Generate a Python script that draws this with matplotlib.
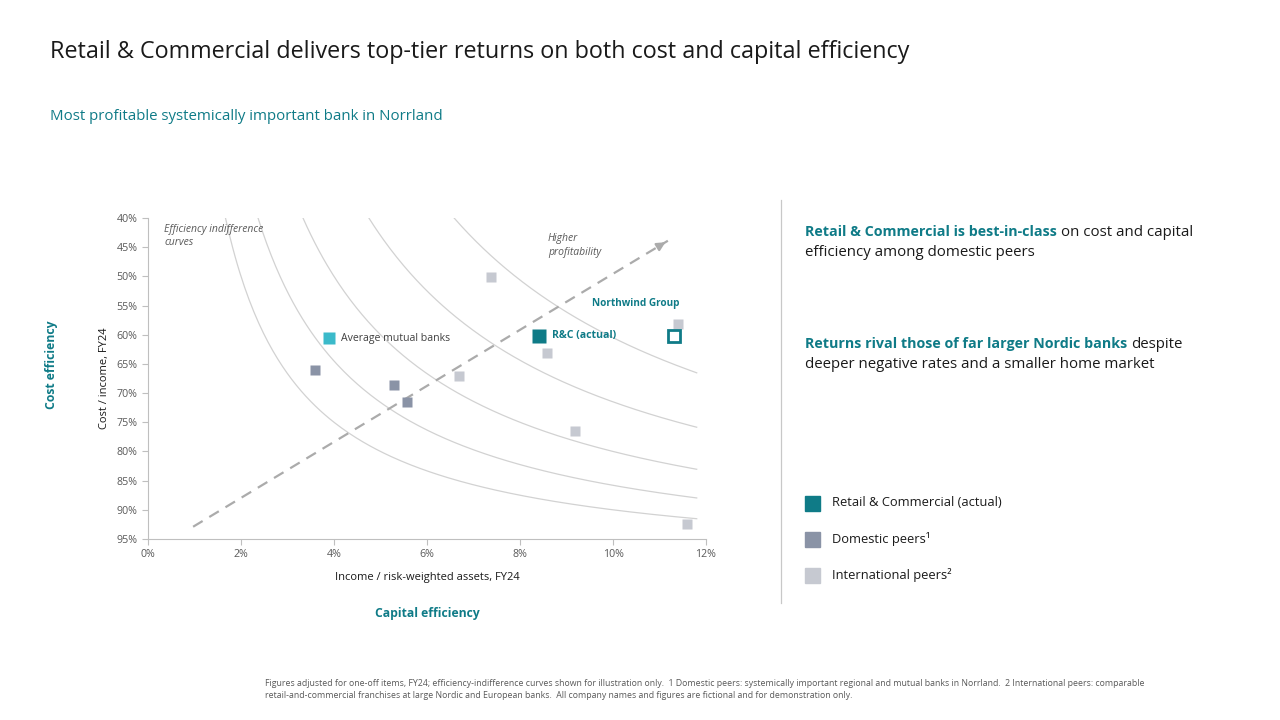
import matplotlib
matplotlib.use("Agg")
import matplotlib.pyplot as plt
import numpy as np

plt.rcParams['font.family'] = ['Open Sans', 'DejaVu Sans']

# --- data -------------------------------------------------------------
rc_actual = (8.41, 60.2)           # income/RWA %, cost/income %
northwind = (11.31, 60.2)
avg_mutual = (3.89, 60.6)

domestic_x = [3.59, 5.29, 5.57]
domestic_y = [66.0, 68.6, 71.5]

intl_x = [7.38, 8.58, 6.69, 9.18, 11.40, 11.59]
intl_y = [50.1, 63.1, 67.1, 76.5, 58.2, 92.4]

# return-on-RWA levels for the indifference curves: I * (1 - CI)
curve_levels = [1.0, 1.42, 2.0, 2.85, 3.95]

arrow_start = (0.97, 92.9)
arrow_end = (11.18, 43.9)

x_ticks = [0, 2, 4, 6, 8, 10, 12]
y_ticks = [40, 45, 50, 55, 60, 65, 70, 75, 80, 85, 90, 95]

# --- colours ----------------------------------------------------------
TEAL = '#0F7B87'
TEAL_LIGHT = '#3BBACA'
DOMESTIC = '#8A93A6'
INTL = '#C6C9D1'
CURVE = '#D2D2D2'
DARK = '#1A1A1A'
GREY_TXT = '#595959'

fig = plt.figure(figsize=(12.8, 7.2), dpi=100)
W, H = 1280, 720


def fx(px):
    return px / W


def fy(py):
    return 1 - py / H


# titles
fig.text(fx(50), fy(52), 'Retail & Commercial delivers top-tier returns on both cost and capital efficiency',
         fontsize=16.8, color=DARK, va='center')
fig.text(fx(50), fy(116), 'Most profitable systemically important bank in Norrland',
         fontsize=10.8, color=TEAL, va='center')

# --- chart ------------------------------------------------------------
ax = fig.add_axes([fx(148), fy(539), fx(706) - fx(148), fy(218) - fy(539)])
ax.set_xlim(0, 12)
ax.set_ylim(95, 40)

for k in curve_levels:
    x0 = k / 0.6
    xs = np.linspace(x0, 11.8, 200)
    ax.plot(xs, 100 * (1 - k / xs), color=CURVE, lw=0.9, zorder=1)

ax.plot([arrow_start[0], arrow_end[0]], [arrow_start[1], arrow_end[1]],
        color='#ABABAB', lw=1.6, ls=(0, (5, 3.5)), zorder=2)
ax.annotate('', xy=arrow_end, xytext=(arrow_end[0] - 0.25, arrow_end[1] + 1.2),
            arrowprops=dict(arrowstyle='-|>,head_length=0.5,head_width=0.25',
                            color='#ABABAB', lw=1.6), zorder=2)

ax.plot(intl_x, intl_y, 's', ms=7, color=INTL, mec='none', zorder=3)
ax.plot(domestic_x, domestic_y, 's', ms=7, color=DOMESTIC, mec='none', zorder=3)
ax.plot(*avg_mutual, 's', ms=8.5, color=TEAL_LIGHT, mec='none', zorder=4)
ax.plot(*rc_actual, 's', ms=10.5, color=TEAL, mec='none', zorder=4)
ax.plot(*northwind, 's', ms=8.5, mfc='white', mec=TEAL, mew=2, zorder=4)

ax.text(avg_mutual[0] + 0.26, avg_mutual[1], 'Average mutual banks',
        fontsize=7.6, color='#404040', va='center')
ax.text(rc_actual[0] + 0.28, rc_actual[1], 'R&C (actual)',
        fontsize=7.6, color=TEAL, fontweight='bold', va='center')
ax.text(9.55, 54.6, 'Northwind Group', fontsize=7.2, color=TEAL,
        fontweight='bold', va='center')
ax.text(0.35, 41.0, 'Efficiency indifference\ncurves', fontsize=7.5,
        style='italic', color=GREY_TXT, va='top', linespacing=1.3)
ax.text(8.6, 42.6, 'Higher\nprofitability', fontsize=7.5,
        style='italic', color=GREY_TXT, va='top', linespacing=1.3)

ax.set_xticks(x_ticks)
ax.set_xticklabels([f'{t}%' for t in x_ticks])
ax.set_yticks(y_ticks)
ax.set_yticklabels([f'{t}%' for t in y_ticks])
ax.tick_params(labelsize=7.7, colors='#BFBFBF', labelcolor=GREY_TXT, length=4, width=0.8)
for side in ['top', 'right']:
    ax.spines[side].set_visible(False)
for side in ['left', 'bottom']:
    ax.spines[side].set_color('#BFBFBF')
    ax.spines[side].set_linewidth(0.8)

ax.set_xlabel('Income / risk-weighted assets, FY24', fontsize=8.0, color=DARK, labelpad=8)
ax.set_ylabel('Cost / income, FY24', fontsize=8.0, color=DARK, labelpad=5)

fig.text(fx(427), fy(614), 'Capital efficiency', fontsize=8.7, color=TEAL,
         fontweight='bold', ha='center', va='center')
fig.text(fx(52), fy(365), 'Cost efficiency', fontsize=8.8, color=TEAL,
         fontweight='bold', ha='center', va='center', rotation=90)

# --- right-hand panel -------------------------------------------------
fig.add_artist(plt.Line2D([fx(781), fx(781)], [fy(200), fy(603)],
                          color='#C8C8C8', lw=0.9))

renderer = fig.canvas.get_renderer()


def mixed_line(px, py, bold, rest, size=10.8, bold_size=10.3):
    t = fig.text(fx(px), fy(py), bold, fontsize=bold_size, color=TEAL,
                 fontweight='bold', va='center')
    bb = t.get_window_extent(renderer=renderer)
    fig.text(bb.x1 / W + 0.003, fy(py), rest, fontsize=size, color=DARK, va='center')


mixed_line(805, 232, 'Retail & Commercial is best-in-class', 'on cost and capital')
fig.text(fx(805), fy(253), 'efficiency among domestic peers', fontsize=10.8, color=DARK, va='center')
mixed_line(805, 344, 'Returns rival those of far larger Nordic banks', 'despite')
fig.text(fx(805), fy(365), 'deeper negative rates and a smaller home market', fontsize=10.8,
         color=DARK, va='center')

legend_items = [('Retail & Commercial (actual)', TEAL),
                ('Domestic peers\u00b9', DOMESTIC),
                ('International peers\u00b2', INTL)]
for i, (label, col) in enumerate(legend_items):
    y = 503 + 36 * i
    fig.patches.append(plt.Rectangle((fx(805), fy(y + 7.5)), 15 / W, 15 / H,
                                     transform=fig.transFigure, color=col, figure=fig))
    fig.text(fx(832), fy(y), label, fontsize=9.3, color=DARK, va='center')

# --- footnote ---------------------------------------------------------
fig.text(fx(265), fy(683),
         'Figures adjusted for one-off items, FY24; efficiency-indifference curves shown for illustration only.  '
         '1 Domestic peers: systemically important regional and mutual banks in Norrland.  '
         '2 International peers: comparable',
         fontsize=6.3, color=GREY_TXT, va='center')
fig.text(fx(265), fy(695),
         'retail-and-commercial franchises at large Nordic and European banks.  '
         'All company names and figures are fictional and for demonstration only.',
         fontsize=6.3, color=GREY_TXT, va='center')

fig.savefig('out.png', dpi=100)
